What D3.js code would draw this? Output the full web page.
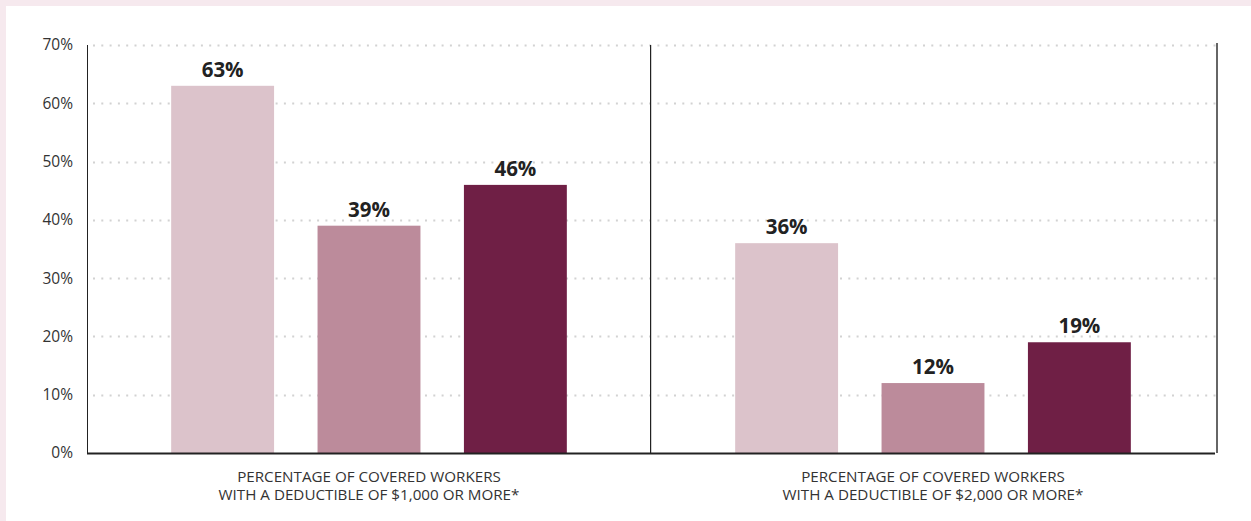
<!DOCTYPE html>
<html>
<head>
<meta charset="utf-8">
<script src="https://cdn.jsdelivr.net/npm/d3@7"></script>
<style>
  html, body { margin: 0; padding: 0; background: #f6e9ee; }
  svg { display: block; }
  text { font-family: "Open Sans", "Noto Sans", sans-serif; }
</style>
</head>
<body>
<svg id="chart" width="1251" height="521"></svg>
<script>
// ---- data ----
const groups = [
  ["PERCENTAGE OF COVERED WORKERS", "WITH A DEDUCTIBLE OF $1,000 OR MORE*"],
  ["PERCENTAGE OF COVERED WORKERS", "WITH A DEDUCTIBLE OF $2,000 OR MORE*"]
];
const groupKeys = ["ded1000", "ded2000"];
const seriesKeys = ["s1", "s2", "s3"];
const seriesA = [63, 36];
const seriesB = [39, 12];
const seriesC = [46, 19];
const yTicks = [0, 10, 20, 30, 40, 50, 60, 70];
const colors = ["#dcc3cb", "#bc8b9b", "#6f1f45"];

// ---- layout ----
const svg = d3.select("#chart");
const W = 1251, H = 521;
svg.append("rect").attr("x", 6).attr("y", 6).attr("width", W - 6).attr("height", H - 6).attr("fill", "#ffffff");

const mLeft = 87, mRight = 1218, mTop = 45, mBottom = 453;

const y = d3.scaleLinear().domain([0, 70]).range([mBottom, mTop]);
const x0 = d3.scaleBand().domain(groupKeys).range([mLeft, mRight - 3]).padding(0);
const x1 = d3.scaleBand().domain(seriesKeys).range([0, x0.bandwidth()])
  .paddingInner(0.297).paddingOuter(0.575);

// gridlines
svg.append("g").selectAll("line").data(yTicks.filter(d => d > 0)).join("line")
  .attr("x1", mLeft + 6).attr("x2", mRight)
  .attr("y1", d => Math.round(y(d)) + 0.5).attr("y2", d => Math.round(y(d)) + 0.5)
  .attr("stroke", "#d2d2d2").attr("stroke-width", 2)
  .attr("stroke-dasharray", "2,6.3");

// y axis labels
const yAxis = d3.axisLeft(y).tickValues(yTicks).tickFormat(d => d + "%").tickSize(0).tickPadding(14);
const ga = svg.append("g").attr("transform", `translate(${mLeft},0)`).call(yAxis);
ga.select(".domain").remove();
ga.selectAll("text").attr("font-size", 15.5).attr("fill", "#333").attr("font-family", "Open Sans, sans-serif");

// bars
const values = [seriesA, seriesB, seriesC];
const barData = [];
groupKeys.forEach((g, gi) => seriesKeys.forEach((s, si) => barData.push({g, s, si, v: values[si][gi]})));

svg.append("g").selectAll("rect").data(barData).join("rect")
  .attr("x", d => x0(d.g) + x1(d.s))
  .attr("y", d => y(d.v))
  .attr("width", x1.bandwidth())
  .attr("height", d => y(0) - y(d.v))
  .attr("fill", d => colors[d.si]);

svg.append("g").selectAll("text").data(barData).join("text")
  .attr("x", d => x0(d.g) + x1(d.s) + x1.bandwidth() / 2)
  .attr("y", d => y(d.v) - 9)
  .attr("text-anchor", "middle")
  .attr("font-size", 20.5).attr("font-weight", 700).attr("fill", "#222")
  .text(d => d.v + "%");

// axis lines
svg.append("line").attr("x1", mLeft + 0.5).attr("x2", mLeft + 0.5).attr("y1", mTop).attr("y2", mBottom)
  .attr("stroke", "#222").attr("stroke-width", 1);
const mid = Math.round(x0(groupKeys[1]));
svg.append("line").attr("x1", mid - 0.5).attr("x2", mid - 0.5).attr("y1", mTop).attr("y2", mBottom)
  .attr("stroke", "#222").attr("stroke-width", 1);
svg.append("line").attr("x1", mid + 0.5).attr("x2", mid + 0.5).attr("y1", mTop).attr("y2", mBottom)
  .attr("stroke", "#d0d0d0").attr("stroke-width", 1);
svg.append("line").attr("x1", mRight - 1).attr("x2", mRight - 1).attr("y1", mTop - 2).attr("y2", mBottom)
  .attr("stroke", "#666").attr("stroke-width", 2);
svg.append("line").attr("x1", mLeft).attr("x2", mRight - 3).attr("y1", mBottom + 0.5).attr("y2", mBottom + 0.5)
  .attr("stroke", "#222").attr("stroke-width", 2);

// category labels
const cat = svg.append("g").selectAll("text").data(groupKeys).join("text")
  .attr("x", d => x0(d) + x0.bandwidth() / 2)
  .attr("y", 481.5)
  .attr("text-anchor", "middle")
  .attr("font-size", 15.2).attr("fill", "#333");
cat.each(function(d, i) {
  const t = d3.select(this);
  groups[i].forEach((line, li) => {
    t.append("tspan").attr("x", x0(d) + x0.bandwidth() / 2).attr("dy", li === 0 ? 0 : 18).text(line);
  });
});
</script>
</body>
</html>
